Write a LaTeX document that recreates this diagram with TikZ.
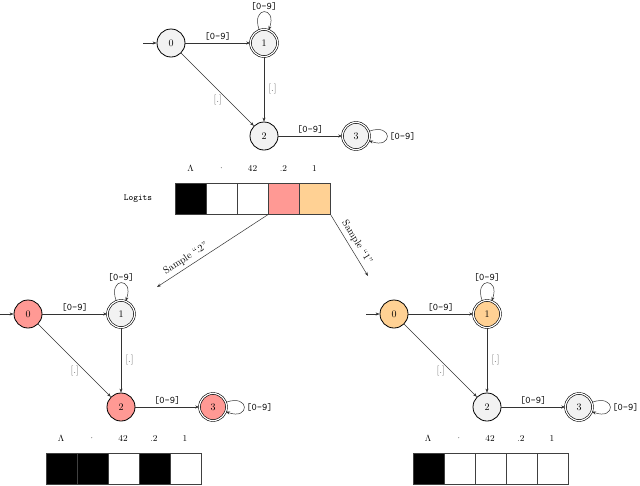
\documentclass[tikz,border=0pt]{standalone}
\usetikzlibrary{arrows.meta}
\definecolor{sred}{HTML}{FF9994}
\definecolor{sorange}{HTML}{FFD194}
\definecolor{sgray}{HTML}{F2F2F2}
\tikzset{
 st/.style={circle, draw, line width=0.8pt, minimum size=28pt, inner sep=0pt, font=\normalsize},
 acc/.style={st, double, double distance=1.2pt, line width=0.6pt, minimum size=27pt},
 tr/.style={-{Stealth[length=4pt,width=3pt]}, line width=0.5pt, draw=black!80},
 dl/.style={font=\ttfamily, inner sep=2pt},
 pl/.style={text=black!55, inner sep=2pt},
 tok/.style={draw=black!75, line width=0.6pt, minimum width=31pt, minimum height=31pt, inner sep=0pt, anchor=north west},
 hdr/.style={font=\small},
}
\newcommand\fsm[7]{%
 \begin{scope}[shift={(#2,#3)}]
 \node[st, fill=#4] (#1-0) at (0,0) {0};
 \node[acc, fill=#5] (#1-1) at (93,0) {1};
 \node[st, fill=#6] (#1-2) at (93,93) {2};
 \node[acc, fill=#7] (#1-3) at (185,93) {3};
 \coordinate (#1-i) at (-28,0);
 \draw[tr] (#1-i) -- (#1-0);
 \draw[tr] (#1-0) -- node[below left, pl, pos=0.55, xshift=3pt] {[.]} (#1-2);
 \draw[tr] (#1-0) -- node[above, dl] {[0-9]} (#1-1);
 \draw[tr] (#1-1) -- node[right, pl, xshift=2pt] {[.]} (#1-2);
 \draw[tr] (#1-2) -- node[above, dl] {[0-9]} (#1-3);
 \draw[tr] (#1-1) to[out=110, in=70, looseness=7] node[above, dl, yshift=-1pt] {[0-9]} (#1-1);
 \draw[tr] (#1-3) to[out=20, in=-20, looseness=7] node[right, dl] {[0-9]} (#1-3);
 \end{scope}}
\begin{document}
\begin{tikzpicture}[x=1pt, y=-1pt]
\useasboundingbox (0,0) rectangle (640,485);
\fsm{t}{171}{43}{sgray}{sgray}{sgray}{sgray}
\fsm{l}{28}{314}{sred}{sgray}{sred}{sred}
\fsm{r}{394}{314}{sorange}{sorange}{sgray}{sgray}
% logits
\node[font=\small\ttfamily] (lgl) at (138,199) {Logits};
\node[tok, fill=black] (g0) at (175,183) {};
\node[tok, fill=white] (g1) at (206,183) {};
\node[tok, fill=white] (g2) at (237,183) {};
\node[tok, fill=sred] (g3) at (268,183) {};
\node[tok, fill=sorange] (g4) at (299,183) {};
\foreach \i/\t in {0/$\Lambda$,1/$\cdot$,2/42,3/.2,4/1}{
 \node[hdr] (gh\i) at (190.5+31*\i,168) {\t};
}
% bottom left tokens
\node[tok, fill=black] (a0) at (45.5,453) {};
\node[tok, fill=black] (a1) at (76.5,453) {};
\node[tok, fill=white] (a2) at (107.5,453) {};
\node[tok, fill=black] (a3) at (138.5,453) {};
\node[tok, fill=white] (a4) at (169.5,453) {};
\foreach \i/\t in {0/$\Lambda$,1/$\cdot$,2/42,3/.2,4/1}{
 \node[hdr] (ah\i) at (61+31*\i,438) {\t};
}
% bottom right tokens
\node[tok, fill=black] (b0) at (412.5,453) {};
\node[tok, fill=white] (b1) at (443.5,453) {};
\node[tok, fill=white] (b2) at (474.5,453) {};
\node[tok, fill=white] (b3) at (505.5,453) {};
\node[tok, fill=white] (b4) at (536.5,453) {};
\foreach \i/\t in {0/$\Lambda$,1/$\cdot$,2/42,3/.2,4/1}{
 \node[hdr] (bh\i) at (428+31*\i,438) {\t};
}
% sample arrows
\coordinate (s1) at (157,287);
\coordinate (s2) at (368,276);
\draw[tr] (g3.south west) -- node[above, sloped, pos=0.7] {Sample ``.2''} (s1);
\draw[tr] (g4.south east) -- node[above, sloped, pos=0.52] {Sample ``1''} (s2);
\end{tikzpicture}
\end{document}
